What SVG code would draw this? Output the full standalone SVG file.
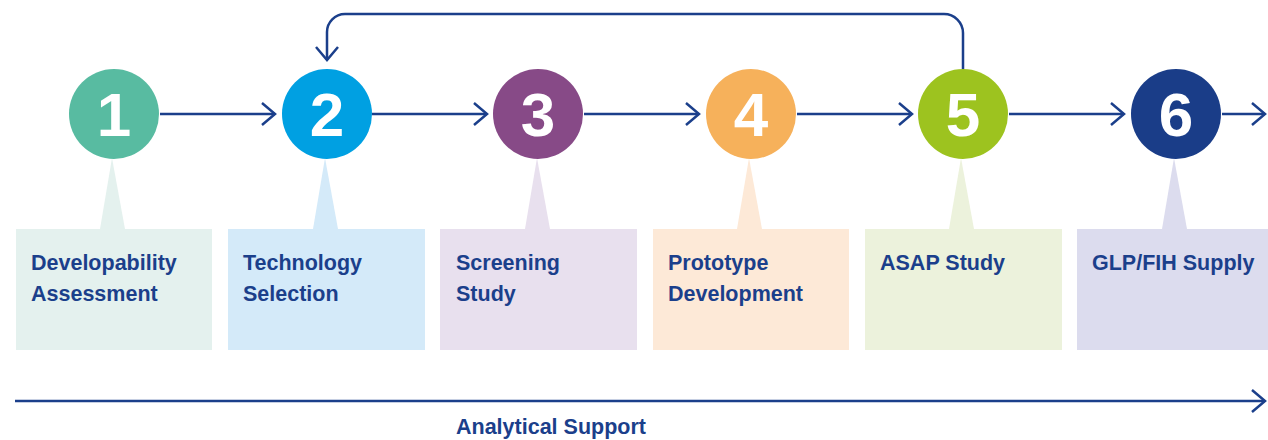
<svg xmlns="http://www.w3.org/2000/svg" width="1268" height="440" viewBox="0 0 1268 440">
  <style>
    .lbl { font-family: "Liberation Sans", Arial, sans-serif; font-weight: bold; font-size: 21.5px; fill: #1b3f8b; }
    .num { font-family: "Liberation Sans", Arial, sans-serif; font-weight: bold; font-size: 62px; fill: #ffffff; text-anchor: middle; }
    .conn { fill: none; stroke: #1b3f8b; stroke-width: 2.5; }
  </style>
  <defs>
    <marker id="chev" markerUnits="userSpaceOnUse" markerWidth="20" markerHeight="30" refX="16" refY="15" orient="auto">
      <path d="M3,4 L16,15 L3,26" fill="none" stroke="#1b3f8b" stroke-width="2.5"/>
    </marker>
  </defs>
  <rect width="1268" height="440" fill="#ffffff"/>

  <g id="node1">
    <rect x="16" y="229" width="196" height="121" fill="#e4f1ee"/>
    <polygon points="112,158 100,229 125,229" fill="#e4f1ee"/>
    <circle cx="114" cy="114" r="45" fill="#58bba1"/>
    <text class="num" x="114" y="136">1</text>
    <text class="lbl" x="31" y="270">Developability</text>
    <text class="lbl" x="31" y="301">Assessment</text>
  </g>
  <g id="node2">
    <rect x="228" y="229" width="197" height="121" fill="#d4eaf9"/>
    <polygon points="325,158 313,229 338,229" fill="#d4eaf9"/>
    <circle cx="327" cy="114" r="45" fill="#00a0e2"/>
    <text class="num" x="327" y="136">2</text>
    <text class="lbl" x="243" y="270">Technology</text>
    <text class="lbl" x="243" y="301">Selection</text>
  </g>
  <g id="node3">
    <rect x="440" y="229" width="197" height="121" fill="#e8e0ee"/>
    <polygon points="537,158 525,229 550,229" fill="#e8e0ee"/>
    <circle cx="538" cy="114" r="45" fill="#874a87"/>
    <text class="num" x="538" y="136">3</text>
    <text class="lbl" x="456" y="270">Screening</text>
    <text class="lbl" x="456" y="301">Study</text>
  </g>
  <g id="node4">
    <rect x="653" y="229" width="196" height="121" fill="#fde9d7"/>
    <polygon points="749,158 737,229 762,229" fill="#fde9d7"/>
    <circle cx="751" cy="114" r="45" fill="#f6b15b"/>
    <text class="num" x="751" y="136">4</text>
    <text class="lbl" x="668" y="270">Prototype</text>
    <text class="lbl" x="668" y="301">Development</text>
  </g>
  <g id="node5">
    <rect x="865" y="229" width="197" height="121" fill="#ecf2dc"/>
    <polygon points="961,158 949,229 974,229" fill="#ecf2dc"/>
    <circle cx="963" cy="114" r="45" fill="#9dc31f"/>
    <text class="num" x="963" y="136">5</text>
    <text class="lbl" x="880" y="270">ASAP Study</text>
  </g>
  <g id="node6">
    <rect x="1077" y="229" width="191" height="121" fill="#dcdcee"/>
    <polygon points="1174,158 1162,229 1187,229" fill="#dcdcee"/>
    <circle cx="1176" cy="114" r="45" fill="#1a3d88"/>
    <text class="num" x="1176" y="136">6</text>
    <text class="lbl" x="1092" y="270">GLP/FIH Supply</text>
  </g>

  <g id="connectors">
    <path class="conn" d="M160,114 H275" marker-end="url(#chev)"/>
    <path class="conn" d="M372,114 H487" marker-end="url(#chev)"/>
    <path class="conn" d="M584,114 H699" marker-end="url(#chev)"/>
    <path class="conn" d="M797,114 H912" marker-end="url(#chev)"/>
    <path class="conn" d="M1009,114 H1124" marker-end="url(#chev)"/>
    <path class="conn" d="M1222,114 H1265" marker-end="url(#chev)"/>
    <path class="conn" d="M963,69 V33 A19,19 0 0 0 944,14 H345 A18,18 0 0 0 327,32 V60" marker-end="url(#chev)"/>
    <path class="conn" d="M15,401 H1265" marker-end="url(#chev)"/>
  </g>
  <text class="lbl" x="456" y="434">Analytical Support</text>
</svg>
